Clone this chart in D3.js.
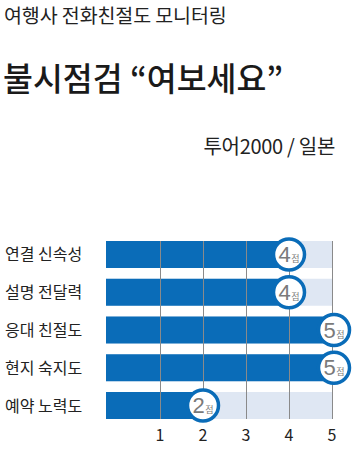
<!DOCTYPE html>
<html>
<head>
<meta charset="utf-8">
<script src="https://cdn.jsdelivr.net/npm/d3@7"></script>
<style>
  body { margin: 0; background: #fff; }
  text { font-family: "Noto Sans CJK KR", "Noto Sans", sans-serif; }
</style>
</head>
<body>
<div id="app"></div>
<script>
var categories = ['연결 신속성', '설명 전달력', '응대 친절도', '현지 숙지도', '예약 노력도'];
var scores = [4, 4, 5, 5, 2];
var ticks = [1, 2, 3, 4, 5];
var maxScore = 5;

var width = 359, height = 464;
var svg = d3.select('#app').append('svg').attr('width', width).attr('height', height);

// titles
svg.append('text').attr('x', 4).attr('y', 23).attr('font-size', 19.5).attr('fill', '#222')
    .attr('letter-spacing', -0.1)
    .text('여행사 전화친절도 모니터링');
svg.append('text').attr('x', 3).attr('y', 91).attr('font-size', 32.5).attr('font-weight', 500).attr('fill', '#1a1a1a')
    .text('불시점검 “여보세요”');
svg.append('text').attr('x', 335).attr('y', 154).attr('text-anchor', 'end').attr('font-size', 20).attr('fill', '#222')
    .attr('letter-spacing', -0.3)
    .text('투어2000 / 일본');

var left = 106;
var x = d3.scaleLinear().domain([1, 5]).range([160, 332]);
var y = d3.scaleBand().domain(categories).range([241, 419]).paddingInner(0.285).paddingOuter(0);

// background bars
svg.append('g').selectAll('rect').data(categories).enter().append('rect')
    .attr('x', left).attr('y', function(d) { return y(d); })
    .attr('width', x(maxScore) - left).attr('height', y.bandwidth())
    .attr('fill', '#dfe7f3');

// value bars
svg.append('g').selectAll('rect').data(scores).enter().append('rect')
    .attr('x', left).attr('y', function(d, i) { return y(categories[i]); })
    .attr('width', function(d) { return x(d) - left; }).attr('height', y.bandwidth())
    .attr('fill', '#0a6cb8');

// grid lines over bars
var yTop = y(categories[0]), yBot = y(categories[categories.length - 1]) + y.bandwidth();
svg.append('g').selectAll('line').data(ticks).enter().append('line')
    .attr('x1', function(d) { return x(d) + 0.5; }).attr('x2', function(d) { return x(d) + 0.5; })
    .attr('y1', yTop).attr('y2', yBot)
    .attr('stroke', '#8a8a8a').attr('stroke-width', 1);

// axis labels
svg.append('g').selectAll('text').data(ticks).enter().append('text')
    .attr('x', function(d) { return x(d); }).attr('y', 441)
    .attr('text-anchor', 'middle').attr('font-size', 16).attr('fill', '#222')
    .attr('font-family', 'Liberation Sans, sans-serif')
    .text(function(d) { return d; });

// category labels
svg.append('g').selectAll('text').data(categories).enter().append('text')
    .attr('x', 5).attr('y', function(d) { return y(d) + y.bandwidth() / 2 + 6; })
    .attr('font-size', 16).attr('fill', '#222')
    .text(function(d) { return d; });

// score badges
var badge = svg.append('g').selectAll('g').data(scores).enter().append('g')
    .attr('transform', function(d, i) {
        var cx = x(d) + (d === maxScore ? 2 : 0);
        return 'translate(' + [cx, y(categories[i]) + y.bandwidth() / 2] + ')';
    });
badge.append('circle').attr('r', 15.5).attr('fill', '#fff')
    .attr('stroke', '#0a6cb8').attr('stroke-width', 3.5);
var t = badge.append('text').attr('text-anchor', 'middle').attr('y', 7.5).attr('fill', '#7a7a7a');
t.append('tspan').attr('font-size', 22).attr('font-family', 'Liberation Sans, sans-serif')
    .text(function(d) { return d; });
t.append('tspan').attr('font-size', 9).attr('dx', 0.5).text('점');
</script>
</body>
</html>
